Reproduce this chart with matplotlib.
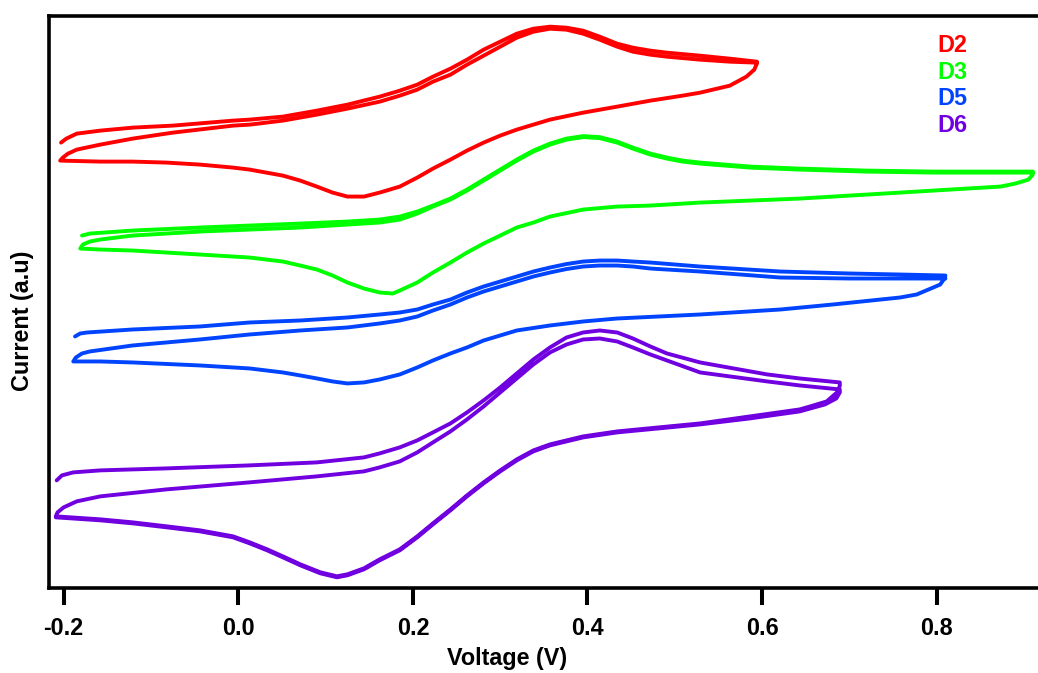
import matplotlib
matplotlib.use("Agg")
import matplotlib.pyplot as plt

plt.rcParams['font.family'] = ['Liberation Sans', 'DejaVu Sans']
plt.rcParams['font.weight'] = 'bold'

# Cyclic voltammograms: potential (V) and current (a.u.), listed in scan order.

# D2: forward scan 1, reverse scan, forward scan 2
d2_v = [-0.203, -0.197, -0.185, -0.158, -0.121, -0.075, -0.006, 0.013, 0.051, 0.090,
        0.125, 0.162, 0.185, 0.205, 0.223, 0.243, 0.262, 0.281, 0.300, 0.319,
        0.338, 0.357, 0.376, 0.395, 0.414, 0.434, 0.452, 0.472, 0.491, 0.529,
        0.563, 0.594,
        0.594, 0.591, 0.582, 0.563, 0.529, 0.509, 0.472, 0.434, 0.395, 0.357,
        0.338, 0.319, 0.300, 0.281, 0.262, 0.243, 0.223, 0.205, 0.185, 0.162,
        0.144, 0.125, 0.108, 0.090, 0.071, 0.051, 0.013, -0.006, -0.044, -0.082,
        -0.121, -0.158, -0.204,
        -0.201, -0.195, -0.185, -0.158, -0.121, -0.075, -0.006, 0.013, 0.051, 0.090,
        0.125, 0.162, 0.185, 0.205, 0.223, 0.243, 0.262, 0.281, 0.300, 0.319,
        0.338, 0.357, 0.376, 0.395, 0.414, 0.434, 0.452, 0.472, 0.491, 0.529,
        0.563, 0.594]
d2_i = [4.46, 4.50, 4.55, 4.58, 4.61, 4.63, 4.68, 4.69, 4.72, 4.78,
        4.84, 4.92, 4.98, 5.04, 5.12, 5.20, 5.29, 5.39, 5.47, 5.55,
        5.60, 5.62, 5.61, 5.58, 5.52, 5.45, 5.41, 5.38, 5.36, 5.33,
        5.30, 5.27,
        5.25, 5.19, 5.12, 5.03, 4.96, 4.93, 4.88, 4.82, 4.76, 4.69,
        4.64, 4.59, 4.53, 4.46, 4.38, 4.29, 4.20, 4.11, 4.02, 3.96,
        3.92, 3.92, 3.96, 4.02, 4.08, 4.13, 4.19, 4.21, 4.24, 4.26,
        4.27, 4.27, 4.28,
        4.31, 4.35, 4.39, 4.44, 4.50, 4.56, 4.63, 4.64, 4.68, 4.74,
        4.80, 4.87, 4.93, 4.99, 5.07, 5.14, 5.24, 5.33, 5.42, 5.51,
        5.57, 5.60, 5.59, 5.55, 5.49, 5.42, 5.37, 5.34, 5.32, 5.29,
        5.27, 5.26]

# D3: forward scan 1, reverse scan, forward scan 2
d3_v = [-0.179, -0.170, -0.121, -0.044, 0.013, 0.071, 0.125, 0.162, 0.185, 0.205,
        0.223, 0.243, 0.262, 0.281, 0.300, 0.319, 0.338, 0.357, 0.376, 0.395,
        0.414, 0.434, 0.452, 0.472, 0.491, 0.509, 0.529, 0.586, 0.643, 0.720,
        0.796, 0.873, 0.910,
        0.910, 0.905, 0.890, 0.873, 0.815, 0.758, 0.643, 0.529, 0.472, 0.434,
        0.395, 0.357, 0.338, 0.319, 0.300, 0.281, 0.262, 0.243, 0.223, 0.205,
        0.185, 0.177, 0.162, 0.144, 0.125, 0.108, 0.090, 0.071, 0.051, 0.013,
        -0.044, -0.121, -0.158, -0.181,
        -0.178, -0.170, -0.158, -0.121, -0.044, 0.013, 0.071, 0.125, 0.162, 0.185,
        0.205, 0.223, 0.243, 0.262, 0.281, 0.300, 0.319, 0.338, 0.357, 0.376,
        0.395, 0.414, 0.434, 0.452, 0.472, 0.491, 0.509, 0.529, 0.586, 0.643,
        0.720, 0.796, 0.873, 0.910]
d3_i = [3.53, 3.55, 3.58, 3.61, 3.63, 3.65, 3.67, 3.69, 3.72, 3.77,
        3.83, 3.90, 3.99, 4.09, 4.19, 4.29, 4.38, 4.45, 4.50, 4.525,
        4.515, 4.47, 4.41, 4.35, 4.31, 4.28, 4.26, 4.22, 4.20, 4.18,
        4.17, 4.17, 4.17,
        4.14, 4.09, 4.05, 4.02, 3.99, 3.96, 3.90, 3.86, 3.83, 3.82,
        3.79, 3.72, 3.66, 3.61, 3.53, 3.45, 3.36, 3.26, 3.16, 3.06,
        2.98, 2.95, 2.96, 3.00, 3.06, 3.13, 3.19, 3.23, 3.27, 3.31,
        3.34, 3.38, 3.39, 3.40,
        3.44, 3.47, 3.49, 3.53, 3.57, 3.59, 3.61, 3.64, 3.66, 3.69,
        3.75, 3.82, 3.89, 3.98, 4.08, 4.18, 4.28, 4.37, 4.44, 4.49,
        4.515, 4.505, 4.46, 4.40, 4.34, 4.30, 4.27, 4.25, 4.21, 4.19,
        4.17, 4.16, 4.16, 4.16]

# D5: forward scan 1, reverse scan, forward scan 2
d5_v = [-0.187, -0.181, -0.173, -0.121, -0.044, 0.013, 0.071, 0.125, 0.162, 0.185,
        0.205, 0.223, 0.243, 0.262, 0.281, 0.300, 0.319, 0.338, 0.357, 0.376,
        0.395, 0.414, 0.434, 0.452, 0.472, 0.529, 0.621, 0.701, 0.758, 0.810,
        0.808, 0.804, 0.796, 0.777, 0.758, 0.681, 0.621, 0.529, 0.434, 0.395,
        0.357, 0.319, 0.300, 0.281, 0.262, 0.243, 0.223, 0.205, 0.185, 0.162,
        0.144, 0.125, 0.108, 0.090, 0.071, 0.051, 0.013, -0.006, -0.044, -0.121,
        -0.158, -0.189,
        -0.186, -0.179, -0.170, -0.121, -0.044, 0.013, 0.071, 0.125, 0.162, 0.185,
        0.205, 0.223, 0.243, 0.262, 0.281, 0.300, 0.319, 0.338, 0.357, 0.376,
        0.395, 0.414, 0.434, 0.452, 0.472, 0.529, 0.621, 0.701, 0.758, 0.810]
d5_i = [2.52, 2.55, 2.56, 2.59, 2.62, 2.66, 2.68, 2.71, 2.74, 2.76,
        2.79, 2.84, 2.89, 2.96, 3.02, 3.07, 3.12, 3.17, 3.21, 3.245,
        3.27, 3.28, 3.28, 3.27, 3.26, 3.22, 3.17, 3.15, 3.14, 3.13,
        3.09, 3.04, 3.01, 2.94, 2.91, 2.84, 2.79, 2.74, 2.70, 2.67,
        2.63, 2.58, 2.53, 2.48, 2.41, 2.35, 2.28, 2.21, 2.14, 2.09,
        2.06, 2.05, 2.07, 2.10, 2.13, 2.16, 2.20, 2.21, 2.23, 2.26,
        2.27, 2.27,
        2.31, 2.35, 2.37, 2.43, 2.49, 2.54, 2.58, 2.61, 2.65, 2.68,
        2.72, 2.78, 2.84, 2.91, 2.97, 3.02, 3.07, 3.12, 3.16, 3.195,
        3.22, 3.23, 3.23, 3.22, 3.20, 3.17, 3.11, 3.10, 3.10, 3.10]

# D6: forward scan 1, reverse scan 1, forward scan 2, reverse scan 2
d6_v = [-0.208, -0.202, -0.189, -0.158, -0.082, 0.013, 0.090, 0.144, 0.162, 0.185,
        0.205, 0.223, 0.243, 0.262, 0.281, 0.300, 0.319, 0.338, 0.357, 0.376,
        0.395, 0.414, 0.434, 0.452, 0.472, 0.491, 0.529, 0.606, 0.643, 0.689,
        0.689, 0.687, 0.674, 0.655, 0.643, 0.586, 0.529, 0.434, 0.395, 0.357,
        0.338, 0.319, 0.300, 0.281, 0.262, 0.243, 0.223, 0.205, 0.185, 0.162,
        0.144, 0.125, 0.113, 0.094, 0.071, 0.051, 0.033, 0.013, -0.006, -0.044,
        -0.082, -0.121, -0.158, -0.209,
        -0.207, -0.200, -0.185, -0.158, -0.082, 0.013, 0.090, 0.144, 0.162, 0.185,
        0.205, 0.223, 0.243, 0.262, 0.281, 0.300, 0.319, 0.338, 0.357, 0.376,
        0.395, 0.414, 0.434, 0.452, 0.472, 0.491, 0.529, 0.606, 0.643, 0.689,
        0.689, 0.685, 0.672, 0.643, 0.586, 0.529, 0.434, 0.395, 0.357, 0.338,
        0.319, 0.300, 0.281, 0.262, 0.243, 0.223, 0.205, 0.185, 0.162, 0.144,
        0.125, 0.113, 0.094, 0.071, 0.051, 0.033, 0.013, -0.006, -0.044, -0.082,
        -0.121, -0.158, -0.209]
d6_i = [1.08, 1.13, 1.16, 1.18, 1.20, 1.23, 1.26, 1.31, 1.35, 1.41,
        1.48, 1.56, 1.65, 1.76, 1.88, 2.01, 2.15, 2.29, 2.41, 2.51,
        2.56, 2.58, 2.56, 2.50, 2.42, 2.35, 2.26, 2.14, 2.10, 2.06,
        2.03, 1.97, 1.87, 1.82, 1.79, 1.72, 1.65, 1.57, 1.52, 1.44,
        1.38, 1.29, 1.18, 1.06, 0.93, 0.79, 0.65, 0.52, 0.39, 0.29,
        0.20, 0.14, 0.12, 0.16, 0.24, 0.32, 0.39, 0.46, 0.52, 0.58,
        0.62, 0.66, 0.69, 0.72,
        0.76, 0.81, 0.87, 0.92, 0.99, 1.06, 1.12, 1.17, 1.21, 1.27,
        1.36, 1.46, 1.57, 1.69, 1.82, 1.96, 2.10, 2.24, 2.36, 2.44,
        2.49, 2.50, 2.47, 2.41, 2.34, 2.28, 2.16, 2.07, 2.03, 1.99,
        1.96, 1.90, 1.84, 1.77, 1.70, 1.64, 1.56, 1.51, 1.43, 1.37,
        1.28, 1.17, 1.05, 0.92, 0.78, 0.64, 0.51, 0.38, 0.28, 0.19,
        0.13, 0.11, 0.15, 0.23, 0.31, 0.38, 0.45, 0.51, 0.57, 0.61,
        0.65, 0.68, 0.71]

labels = ["D2", "D3", "D5", "D6"]
colors = ["#FF0000", "#00FF00", "#0044FF", "#7000E0"]
xticks = [-0.2, 0.0, 0.2, 0.4, 0.6, 0.8]
xticklabels = ["-0.2", "0.0", "0.2", "0.4", "0.6", "0.8"]

W, H = 1038, 673
fig = plt.figure(figsize=(W / 100, H / 100), dpi=100)
ax = fig.add_axes([49 / W, (H - 588.3) / H, (1040 - 49) / W, (588.3 - 15.7) / H])

for v, i, c in zip([d2_v, d3_v, d5_v, d6_v], [d2_i, d3_i, d5_i, d6_i], colors):
    ax.plot(v, i, color=c, lw=2.8, solid_joinstyle='round', solid_capstyle='round')

ax.set_xlim(-0.2168, 0.9183)
ax.set_ylim(0, 5.73)

ax.spines['right'].set_visible(False)
for s in ['left', 'bottom', 'top']:
    ax.spines[s].set_linewidth(2.6)
ax.set_yticks([])
ax.set_xticks(xticks)
ax.set_xticklabels(xticklabels)
ax.tick_params(axis='x', direction='out', length=12.5, width=2.9, pad=8, labelsize=16.8)
for lab in ax.get_xticklabels():
    lab.set_fontweight('bold')

fig.text(507.5 / W, (H - 665) / H, "Voltage (V)", ha='center', va='baseline',
         fontsize=16.8, fontweight='bold')
fig.text(23 / W, (H - 321) / H, "Current (a.u)", rotation=90, ha='center', va='center',
         fontsize=16.8, fontweight='bold')

# series names, stacked in the upper right
for k, (lab, c) in enumerate(zip(labels, colors)):
    fig.text(937 / W, (H - 52 - 26.7 * k) / H, lab, color=c, ha='left', va='baseline',
             fontsize=16.8, fontweight='bold')

fig.savefig("out.png", dpi=100)
